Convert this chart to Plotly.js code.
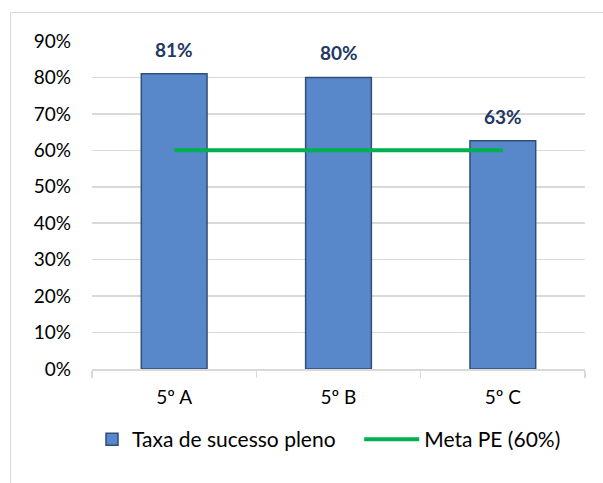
<!DOCTYPE html>
<html><head><meta charset="utf-8">
<script src="https://cdn.plot.ly/plotly-3.0.1.min.js"></script>
<style>
html,body{margin:0;padding:0;background:#fff;}
#wrap{position:relative;width:603px;height:483px;overflow:hidden;}
#frame{position:absolute;left:10px;top:12px;width:620px;height:500px;border:1px solid #D9D9D9;box-sizing:border-box;}
#chart{position:absolute;left:0;top:0;width:603px;height:483px;}
</style></head>
<body><div id="wrap"><div id="frame"></div><div id="chart"></div></div>
<script>
var categories = ["5º A", "5º B", "5º C"];
var taxaSucesso = [0.81, 0.80, 0.626];
var metaPE = [0.60, 0.60, 0.60];
var yTicks = [0, 0.1, 0.2, 0.3, 0.4, 0.5, 0.6, 0.7, 0.8, 0.9];

var font = "Lato, 'Open Sans', sans-serif";
var traces = [
  {type:"bar", x:categories, y:taxaSucesso, name:"Taxa de sucesso pleno", legend:"legend",
   marker:{color:"#5887CA", line:{color:"#2F4E78", width:1.5}}, width:0.4,
   hoverinfo:"none"},
  {type:"scatter", mode:"lines", x:categories, y:metaPE, name:"Meta PE (60%)", legend:"legend2",
   line:{color:"#00B050", width:4}, hoverinfo:"none"}
];
var annotations = categories.map(function(c,i){
  return {x:c, y:taxaSucesso[i], xref:"x", yref:"y", text:"<b>"+Math.round(taxaSucesso[i]*100)+"%</b>",
    showarrow:false, yanchor:"bottom", yshift:11, font:{family:font, size:19, color:"#1F3864"}};
});
var legFont = {family:font, size:21, color:"#000"};
var layout = {
  width:603, height:483, margin:{l:92, r:18, t:41, b:114},
  paper_bgcolor:"rgba(0,0,0,0)", plot_bgcolor:"rgba(0,0,0,0)",
  font:{family:font, size:19, color:"#000"},
  showlegend:true,
  legend:{orientation:"h", x:0, xanchor:"left", y:-0.215, yanchor:"middle",
    font:legFont, itemwidth:30, bgcolor:"rgba(0,0,0,0)"},
  legend2:{orientation:"h", x:0.542, xanchor:"left", y:-0.215, yanchor:"middle",
    font:legFont, itemwidth:55, bgcolor:"rgba(0,0,0,0)"},
  xaxis:{type:"category", showline:true, linecolor:"#D9D9D9", linewidth:1.5,
    ticks:"outside", tickson:"boundaries", ticklen:7, tickcolor:"#D9D9D9", tickwidth:1.5,
    ticklabelstandoff:11, showgrid:false, fixedrange:true},
  yaxis:{range:[0,0.9], tickvals:yTicks, tickformat:".0%", showgrid:true, gridcolor:"#D9D9D9",
    gridwidth:1.5, zeroline:false, showline:false, ticks:"", ticklabelstandoff:20, fixedrange:true},
  annotations:annotations
};
Plotly.newPlot("chart", traces, layout, {displayModeBar:false, staticPlot:true});
</script></body></html>
